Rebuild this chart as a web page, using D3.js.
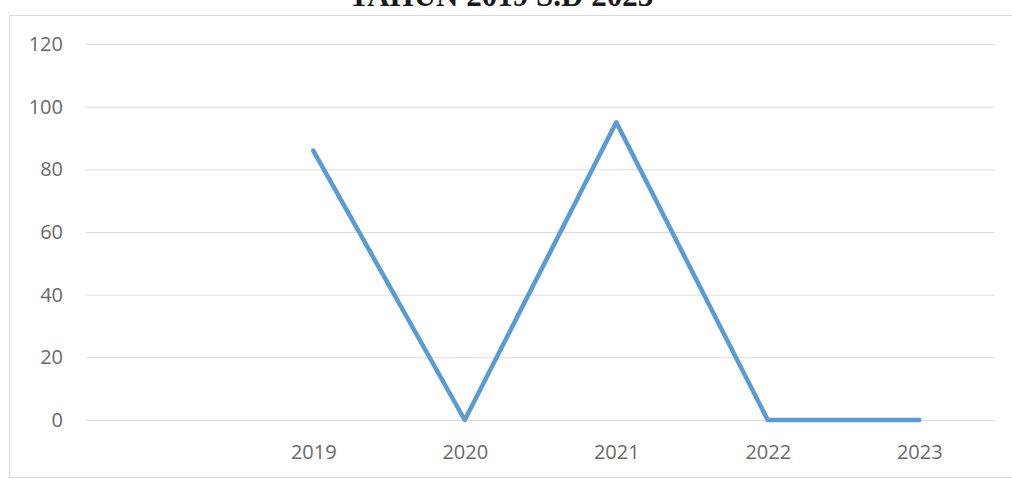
<!DOCTYPE html>
<html>
<head>
<meta charset="utf-8">
<script src="https://cdn.jsdelivr.net/npm/d3@7"></script>
<style>
  html, body { margin: 0; padding: 0; background: #fff; overflow: hidden; }
  svg { display: block; }
</style>
</head>
<body>
<svg id="chart" width="1012" height="479"></svg>
<script>
const titleText = "TAHUN 2019 S.D 2023";
const categories = ["", "2019", "2020", "2021", "2022", "2023"];
const values = [null, 86, 0, 95, 0, 0];
const yTicks = [0, 20, 40, 60, 80, 100, 120];

const svg = d3.select("#chart");

// outer chart frame: top, left and bottom edges (right side runs past the picture)
svg.append("path")
  .attr("d", "M1012,15.5 H9.5 V477.5 H1012")
  .attr("fill", "none").attr("stroke", "#d9d9d9").attr("stroke-width", 1);

const x = d3.scalePoint().domain(categories).range([86, 995]).padding(0.5);
const y = d3.scaleLinear().domain([0, 120]).range([420, 44]);

// gridlines
const grid = d3.axisLeft(y).tickValues(yTicks).tickSize(-(995 - 86)).tickFormat("");
svg.append("g")
  .attr("transform", "translate(86,0)")
  .call(grid)
  .call(g => g.select(".domain").remove())
  .call(g => g.selectAll("line").attr("stroke", "#dcdcdc").attr("stroke-width", 1));

// y labels
const yAxis = d3.axisLeft(y).tickValues(yTicks).tickSize(0).tickPadding(23);
svg.append("g")
  .attr("transform", "translate(86,0)")
  .call(yAxis)
  .call(g => g.select(".domain").remove())
  .call(g => g.selectAll("text")
    .attr("fill", "#6a6a6a")
    .style("font-family", "'Open Sans', sans-serif")
    .style("font-size", "20px"));

// x labels
const xAxis = d3.axisBottom(x).tickSize(0).tickPadding(25);
svg.append("g")
  .attr("transform", "translate(0,420)")
  .call(xAxis)
  .call(g => g.select(".domain").remove())
  .call(g => g.selectAll("text")
    .attr("fill", "#6a6a6a")
    .style("font-family", "'Open Sans', sans-serif")
    .style("font-size", "20px"));

// line
const pts = categories.map((c, i) => ({c, v: values[i]}));
const line = d3.line()
  .defined(d => d.v !== null)
  .x(d => x(d.c))
  .y(d => y(d.v));
svg.append("path")
  .datum(pts)
  .attr("d", line)
  .attr("fill", "none")
  .attr("stroke", "#5b9bd5")
  .attr("stroke-width", 4.5)
  .attr("stroke-linejoin", "round")
  .attr("stroke-linecap", "round");

// title (cut off at top, as in the reference)
svg.append("text")
  .attr("x", 501).attr("y", 6)
  .attr("text-anchor", "middle")
  .attr("fill", "#1a1a1a")
  .style("font-family", "'Liberation Serif', 'Times New Roman', serif")
  .style("font-weight", "bold")
  .style("font-size", "31px")
  .text(titleText);
</script>
</body>
</html>
